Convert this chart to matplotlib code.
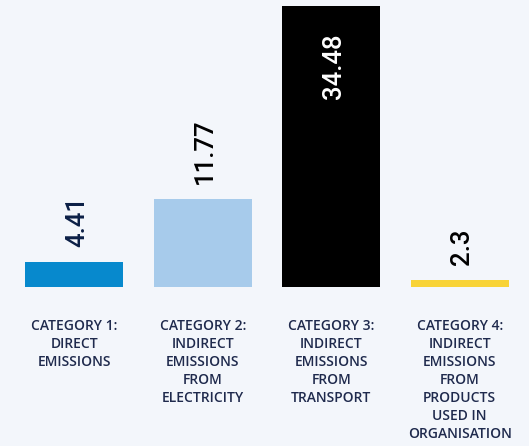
import matplotlib
matplotlib.use("Agg")
import matplotlib.pyplot as plt
import matplotlib.transforms as mtransforms

categories = [
    "CATEGORY 1:\nDIRECT\nEMISSIONS",
    "CATEGORY 2:\nINDIRECT\nEMISSIONS\nFROM\nELECTRICITY",
    "CATEGORY 3:\nINDIRECT\nEMISSIONS\nFROM\nTRANSPORT",
    "CATEGORY 4:\nINDIRECT\nEMISSIONS\nFROM\nPRODUCTS\nUSED IN\nORGANISATION",
]
values = [4.41, 11.77, 34.48, 2.3]
bar_colors = ["#0789cd", "#a7cbeb", "#000000", "#f8d336"]
value_colors = ["#0b1f46", "#000000", "#ffffff", "#000000"]

bg = "#f3f6fb"
fig = plt.figure(figsize=(5.29, 4.46), dpi=100, facecolor=bg)
ax = fig.add_axes([10/529, 1 - 287/446, 514/529, (287 - 6)/446])
ax.set_facecolor(bg)

x = list(range(len(values)))
bars = ax.bar(x, values, width=0.765, color=bar_colors)
ax.set_xlim(-0.5, len(values) - 0.5)
ax.set_ylim(1.5, max(values))
ax.axis("off")

for i, (b, v, c) in enumerate(zip(bars, values, value_colors)):
    cx = b.get_x() + b.get_width()/2 + 0.02
    if v == max(values):
        ax.annotate(f"{v:g}", xy=(cx, v), xytext=(0, -20),
                    textcoords="offset points", ha="center", va="top", rotation=90,
                    color=c, fontsize=18.5, fontfamily="Roboto", fontweight="medium")
    else:
        ax.annotate(f"{v:g}", xy=(cx, v), xytext=(0, 11),
                    textcoords="offset points", ha="center", va="bottom", rotation=90,
                    color=c, fontsize=18.5, fontfamily="Roboto", fontweight="medium")

trans = mtransforms.blended_transform_factory(ax.transData, fig.transFigure)
for i, lab in enumerate(categories):
    fig.text(i, 1 - 319/446, lab, transform=trans, ha="center", va="top",
             multialignment="center", fontsize=10, fontfamily="Open Sans",
             fontweight="semibold", color="#1f2a4d", linespacing=1.36)

fig.savefig("out.png", dpi=100, facecolor=bg)
